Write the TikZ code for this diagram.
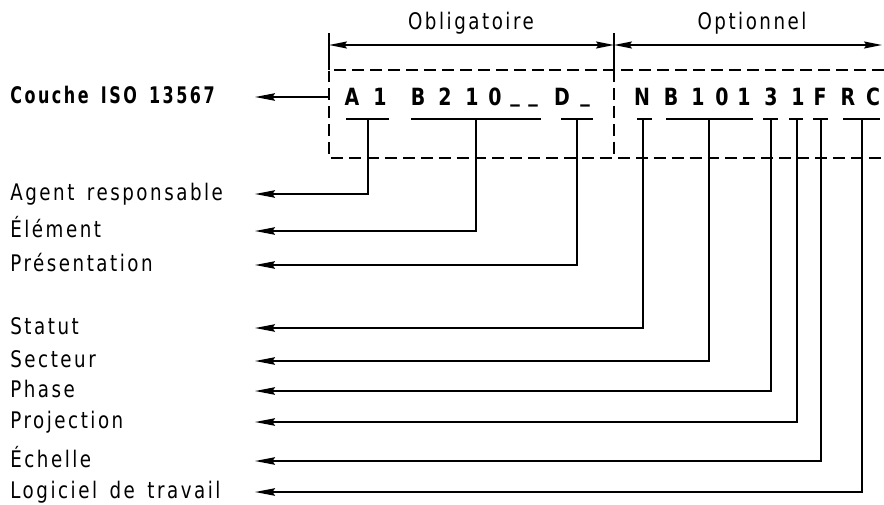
\documentclass[tikz,border=0pt]{standalone}
\usepackage{fontspec}
\setmainfont{DejaVu Sans}[FakeStretch=0.8, LetterSpace=11, WordSpace=1.5]
\newfontfamily\layerfont{DejaVu Sans}[FakeStretch=0.7, LetterSpace=11, WordSpace=1.5]
\usetikzlibrary{arrows.meta,calc}
\definecolor{SheetInk}{HTML}{000000}
\tikzset{
  every node/.style={font=\fontsize{13}{15}\selectfont, text=SheetInk, inner sep=0pt},
  fieldname/.style={anchor=west, text height=0.73em, text depth=0pt},
  codechar/.style={anchor=base, font=\fontsize{13.5}{15}\selectfont\bfseries},
  fieldbar/.style={draw=SheetInk, line width=0.85pt},
  extension/.style={draw=SheetInk, line width=0.85pt},
  frame/.style={draw=SheetInk, line width=0.85pt, dash pattern=on 6.8pt off 3.4pt},
  callout/.style={-{Stealth[length=0.4cm,width=0.15cm,inset=0.05cm]}, draw=SheetInk, line width=0.85pt},
  dimension/.style={{Stealth[length=0.36cm,width=0.14cm,inset=0.05cm]}-{Stealth[length=0.36cm,width=0.14cm,inset=0.05cm]}, draw=SheetInk, line width=0.85pt},
}
\begin{document}
\begin{tikzpicture}[x=0.02cm,y=-0.02cm]
  \useasboundingbox (0,0) rectangle (884,504);
  % Obligatoire / Optionnel span
  \coordinate (dimA) at (329,45);
  \coordinate (dimB) at (614,45);
  \coordinate (dimC) at (882,45);
  \draw[extension] (329,33) -- (329,70);
  \draw[extension] (614,33) -- (614,70);
  \draw[dimension] (dimA) -- (dimB);
  \draw[dimension] (dimB) -- (dimC);
  \node[anchor=base] (mand) at (471,29) {Obligatoire};
  \node[anchor=base] (opt) at (752,29) {Optionnel};
  % Dashed frame round the code
  \draw[frame] (884,70) -- (329,70) -- (329,158) -- (884,158);
  \draw[frame] (614,70) -- (614,158);
  % Code characters
  \foreach \ch/\cx/\cy [count=\i] in {A/352/105, 1/380/105, B/418/105, 2/445/105, 1/472/105,
      0/495/105, \_/515/101, \_/533/101, D/562/105, \_/585/101,
      N/642/105, B/671/105, 1/698/105, 0/722/105, 1/744/105, 3/771/105, 1/798/105,
      F/820/105, R/848/105, C/873/105}
    \node[codechar] (c\i) at (\cx,\cy) {\ch};
  % Field bars under the code
  \foreach \xa/\xb/\xl [count=\i] in {346/389/368, 411/541/476, 561/593/577, 637/652/643,
      666/753/709, 763/778/771, 789/803/797, 813/828/821, 843/880/862} {
    \draw[fieldbar] (\xa,119) -- (\xb,119);
    \coordinate (f\i) at (\xl,119);
  }
  % Field names
  \coordinate (tipx) at (255,0);
  \node[fieldname, font=\fontsize{13}{15}\layerfont\bfseries] (layer) at (10,97) {Couche ISO 13567};
  \coordinate (frameL) at (329,97);
  \draw[callout] (frameL) -- (layer.east -| tipx);
  \foreach \txt/\ly [count=\i] in {Agent responsable/194, Élément/231, Présentation/265,
      Statut/328, Secteur/361, Phase/391, Projection/422, Échelle/461, Logiciel de travail/492}
    \node[fieldname] (n\i) at (10,\ly) {\txt};
  \foreach \i in {1,...,9}
    \draw[callout] (f\i) |- (n\i.east -| tipx);
\end{tikzpicture}
\end{document}
